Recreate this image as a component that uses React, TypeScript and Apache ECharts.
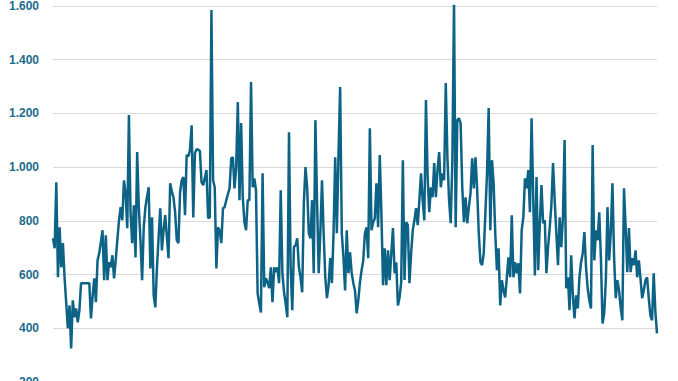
import React, { useEffect, useRef } from "react";
import * as echarts from "echarts";

// Values, in order, left to right (four stretches of the line)
const valuesPart1: number[] = [
  735, 698, 944, 590, 776, 627, 717, 590, 495, 400, 485, 325, 504, 441, 474, 422, 467, 568,
  568, 568, 568, 568, 568, 437, 520, 586, 497, 653, 679, 720, 765, 579, 746, 579, 646, 627,
  672, 586, 653, 730, 802, 851, 802, 951, 903, 773, 1194, 828, 717, 858, 664, 1056, 851, 728,
  579, 776, 851, 890, 925, 623, 813, 523, 478, 627, 740, 847, 690, 765, 821, 740, 661, 940,
  910, 888, 832, 728, 717, 907, 951, 963, 821, 1045, 1040, 1063, 1156, 813, 1052, 1067, 1065,
  1060, 944, 933, 960, 989,
];
const valuesPart2: number[] = [
  810, 813, 1585, 951, 925, 623, 776, 765, 717, 847, 851, 877, 900, 921, 1033, 1037, 921, 1000,
  1242, 877, 1164, 888, 795, 765, 877, 877, 1317, 925, 958, 914, 530, 492, 459, 977, 553, 586,
  571, 549, 627, 497, 627, 609, 627, 568, 914, 605, 534, 492, 441, 1130, 627, 467, 702, 709,
  735, 627, 590, 534, 866, 1000, 925, 754, 735, 877, 605, 1175, 877, 605, 754, 951, 754, 590,
  512, 560, 661, 568, 754, 1037, 754, 1045, 1298, 754, 664, 541, 765, 605, 683, 605, 568, 541,
  456, 504,
];
const valuesPart3: number[] = [
  571, 616, 653, 754, 776, 661, 1145, 765, 795, 810, 940, 776, 1045, 828, 560, 698, 560, 690,
  579, 679, 773, 605, 646, 485, 515, 571, 1026, 580, 795, 784, 568, 679, 765, 802,
  847, 784, 877, 977, 877, 802, 1250, 963, 832, 925, 888, 1015, 888, 989, 1056, 925, 977,
  951, 1313, 1037, 877, 791, 1026, 1615, 776, 1175, 1182, 1164, 925, 795, 888, 791, 851,
  903, 1033, 921, 1037, 921, 754, 646, 635, 679, 828, 977, 1220, 765, 1026, 940, 754, 616, 698,
  485, 579, 541, 515,
];
const valuesPart4: number[] = [
  590, 664, 590, 821, 590, 646, 605, 642, 530, 765, 813, 958, 921, 989, 832, 1182, 888,
  597, 963, 616, 791, 933, 791, 802, 605, 702, 776, 858, 1015, 877, 754, 635, 813, 702, 813,
  1101, 549, 590, 467, 672, 523, 437, 523, 474, 590, 646, 679, 758, 627, 549, 504, 474, 1082,
  653, 765, 728, 832, 664, 418, 456, 579, 851, 653, 758, 940, 664, 512, 579, 541, 478, 430,
  921, 776, 609, 773, 609, 661, 635, 690, 590, 653, 586, 512, 541, 579, 590, 512, 448, 430,
  605, 463, 381,
];

const seriesValues: number[] = [...valuesPart1, ...valuesPart2, ...valuesPart3, ...valuesPart4];
const categories: string[] = seriesValues.map((_, i) => String(i + 1));

const yMin = 200;
const yMax = 1600;
const yStep = 200;

const lineColor = "#0d6386";
const labelColor = "#1d6b8c";

function formatThousands(v: number): string {
  return String(v).replace(/\B(?=(\d{3})+(?!\d))/g, ".");
}

export default function App() {
  const ref = useRef<HTMLDivElement>(null);

  useEffect(() => {
    if (!ref.current) return;
    const chart = echarts.init(ref.current, undefined, { renderer: "svg" });
    chart.setOption({
      animation: false,
      backgroundColor: "#ffffff",
      grid: { left: 53, right: 21, top: 6, bottom: 18, containLabel: false },
      xAxis: {
        type: "category",
        data: categories,
        boundaryGap: false,
        axisLine: { show: false },
        axisTick: { show: false },
        axisLabel: { show: false },
        splitLine: { show: false },
      },
      yAxis: {
        type: "value",
        min: yMin,
        max: yMax,
        interval: yStep,
        axisLine: { show: false },
        axisTick: { show: false },
        axisLabel: {
          color: labelColor,
          fontFamily: "Liberation Sans, Arial, sans-serif",
          fontWeight: "bold",
          fontSize: 12,
          margin: 14,
          formatter: (v: number) => formatThousands(v),
        },
        splitLine: { lineStyle: { color: "#d9d9d9", width: 1 } },
      },
      series: [
        {
          type: "line",
          data: seriesValues,
          showSymbol: false,
          symbol: "none",
          lineStyle: { color: lineColor, width: 2.5 },
          itemStyle: { color: lineColor },
        },
      ],
    });
    return () => chart.dispose();
  }, []);

  return (
    <div
      style={{
        position: "fixed",
        left: 0,
        top: 0,
        width: 678,
        height: 381,
        overflow: "hidden",
        background: "#ffffff",
      }}
    >
      <div ref={ref} style={{ width: 678, height: 400 }} />
    </div>
  );
}
